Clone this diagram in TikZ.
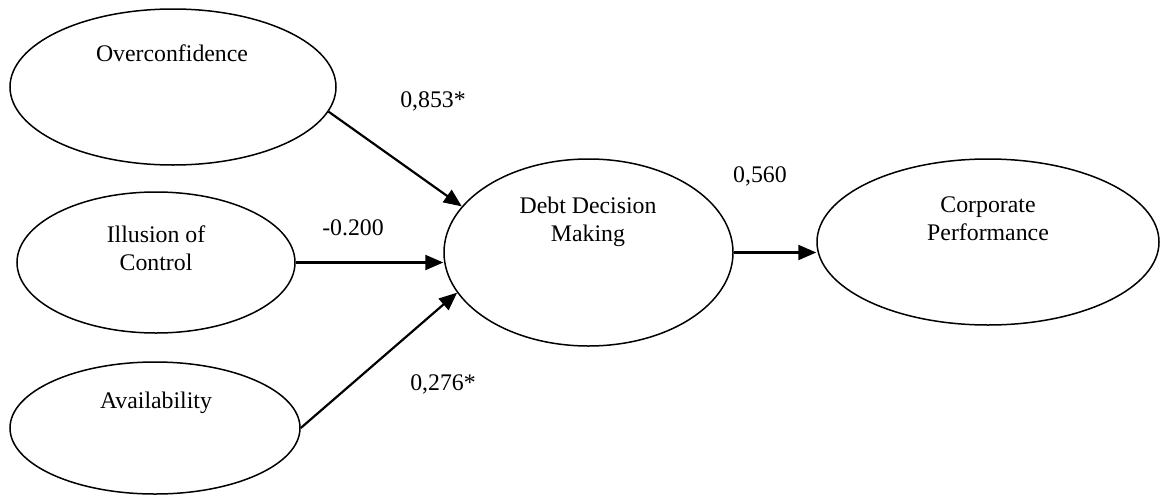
\documentclass[tikz,border=0pt]{standalone}
\usepackage{fontspec}
\setmainfont{Liberation Serif}
\usetikzlibrary{shapes.geometric,arrows.meta}
\begin{document}
\begin{tikzpicture}[x=0.5pt,y=-0.5pt,
  latent/.style={draw, ellipse, line width=0.75pt, inner sep=0pt},
  txt/.style={font=\fontsize{11.9}{14}\selectfont, align=center, inner sep=0pt},
  pathar/.style={line width=1.1pt, -{Triangle[length=9pt,width=7.5pt]}}]
\useasboundingbox (0,0) rectangle (1160,498);
% latent variables
\node[latent, minimum width=163pt, minimum height=78pt] (oc) at (173,87) {};
\node[latent, minimum width=139pt, minimum height=70.5pt] (ic) at (156,262.5) {};
\node[latent, minimum width=145pt, minimum height=66pt] (av) at (155,428) {};
\node[latent, minimum width=144.5pt, minimum height=93.5pt] (dd) at (588.5,252.5) {};
\node[latent, minimum width=171pt, minimum height=83pt] (cp) at (988,242) {};
% texts
\node[txt] (toc) at (172,53) {Overconfidence};
\node[txt] (tic) at (156,248) {Illusion of\\Control};
\node[txt] (tav) at (156,403) {Availability};
\node[txt] (tdd) at (588,222) {Debt Decision\\Making};
\node[txt] (tcp) at (988,219) {Corporate\\Performance};
% paths
\draw[pathar] (oc.-9.3) -- (dd.160.1);
\draw[pathar] (ic.0) -- (dd.west |- ic.0);
\draw[pathar] (av.0) -- (dd.197.6);
\draw[pathar] (dd.east) -- (cp.west |- dd.east);
% coefficients
\node[txt] (l1) at (433,101) {0,853*};
\node[txt] (l2) at (353,228) {-0.200};
\node[txt] (l3) at (443,384) {0,276*};
\node[txt] (l4) at (760,176) {0,560};
\end{tikzpicture}
\end{document}
